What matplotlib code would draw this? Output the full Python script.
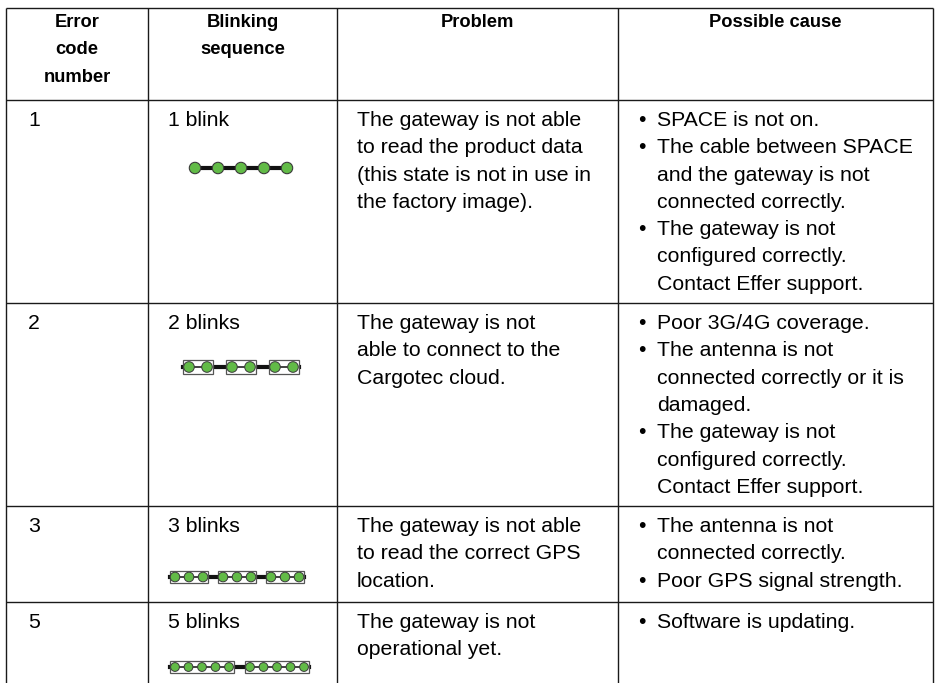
import matplotlib
matplotlib.use('Agg')
import matplotlib.pyplot as plt
from matplotlib.patches import Circle, Rectangle

plt.rcParams['font.family'] = ['Liberation Sans', 'DejaVu Sans']

# table content
headers = [['Error', 'code', 'number'], ['Blinking', 'sequence'], ['Problem'], ['Possible cause']]
codes = ['1', '2', '3', '5']
blinks = [1, 2, 3, 5]
blink_labels = ['1 blink', '2 blinks', '3 blinks', '5 blinks']
icon_groups = [5, 3, 3, 2]
problems = [
    ['The gateway is not able', 'to read the product data', '(this state is not in use in', 'the factory image).'],
    ['The gateway is not', 'able to connect to the', 'Cargotec cloud.'],
    ['The gateway is not able', 'to read the correct GPS', 'location.'],
    ['The gateway is not', 'operational yet.'],
]
causes = [
    [['SPACE is not on.'],
     ['The cable between SPACE', 'and the gateway is not', 'connected correctly.'],
     ['The gateway is not', 'configured correctly.', 'Contact Effer support.']],
    [['Poor 3G/4G coverage.'],
     ['The antenna is not', 'connected correctly or it is', 'damaged.'],
     ['The gateway is not', 'configured correctly.', 'Contact Effer support.']],
    [['The antenna is not', 'connected correctly.'],
     ['Poor GPS signal strength.']],
    [['Software is updating.']],
]

# layout (pixels)
W, H = 936, 683
col_x = [6, 148, 337, 618, 933]
row_y = [8, 100, 303, 506, 602]
LH = 27.3      # line height
HLH = 27.5     # header line height
FS = 15.3
GREEN = '#62bb47'
EDGE = '#3a3a3a'
icon_dy = [42, 38, 45, 39]

fig = plt.figure(figsize=(W / 100, H / 100), dpi=100)
ax = fig.add_axes([0, 0, 1, 1])
ax.set_xlim(0, W)
ax.set_ylim(H, 0)
ax.axis('off')

# grid
for y in row_y:
    ax.plot([col_x[0], col_x[-1]], [y, y], color='#1a1a1a', lw=1.0, solid_capstyle='butt')
for x in col_x:
    ax.plot([x, x], [row_y[0], H], color='#1a1a1a', lw=1.0, solid_capstyle='butt')

# header
for j, lines in enumerate(headers):
    cx = (col_x[j] + col_x[j + 1]) / 2
    for k, s in enumerate(lines):
        ax.text(cx, row_y[0] + 19 + k * HLH, s, ha='center', va='baseline', fontsize=13.2,
                fontweight='bold')


def draw_icon(n, ngroups, x0, yc):
    if n == 1:
        step, r = 23, 5.7
        xs = [x0 + 6 + i * step for i in range(ngroups)]
        ax.plot([xs[0], xs[-1]], [yc, yc], color='#111111', lw=3.0, zorder=2)
        for x in xs:
            ax.add_patch(Circle((x, yc), r, fc=GREEN, ec=EDGE, lw=0.8, zorder=3))
        return
    step = {2: 18, 3: 14, 5: 13.5}[n]
    r = {2: 5.3, 3: 4.8, 5: 4.4}[n]
    gap = {2: 13, 3: 10, 5: 11}[n]
    pad = 6 if n == 2 else 5
    bw = 2 * pad + (n - 1) * step
    bh = 14 if n == 2 else 12
    lefts = [x0 + g * (bw + gap) for g in range(ngroups)]
    ax.plot([lefts[0], lefts[-1] + bw], [yc, yc], color='#111111', lw=3.0, zorder=1)
    for lx in lefts:
        ax.add_patch(Rectangle((lx, yc - bh / 2), bw, bh, fc='white', ec='#555555', lw=0.9, zorder=2))
        xs = [lx + pad + i * step for i in range(n)]
        ax.plot([xs[0], xs[-1]], [yc, yc], color='#222222', lw=1.2, zorder=3)
        for x in xs:
            ax.add_patch(Circle((x, yc), r, fc=GREEN, ec=EDGE, lw=0.7, zorder=4))


icon_x0 = [189, 183, 170, 170]
for i in range(len(codes)):
    top = row_y[i + 1]
    base = top + 26
    ax.text(col_x[0] + 22, base, codes[i], ha='left', va='baseline', fontsize=FS)
    ax.text(col_x[1] + 20, base, blink_labels[i], ha='left', va='baseline', fontsize=FS)
    draw_icon(blinks[i], icon_groups[i], icon_x0[i], base + icon_dy[i])
    for k, s in enumerate(problems[i]):
        ax.text(col_x[2] + 20, base + k * LH, s, ha='left', va='baseline', fontsize=FS)
    k = 0
    for item in causes[i]:
        ax.text(col_x[3] + 20, base + k * LH, '\u2022', ha='left', va='baseline', fontsize=FS)
        for s in item:
            ax.text(col_x[3] + 39, base + k * LH, s, ha='left', va='baseline', fontsize=FS)
            k += 1

fig.savefig('out.png', dpi=100, facecolor='white')
